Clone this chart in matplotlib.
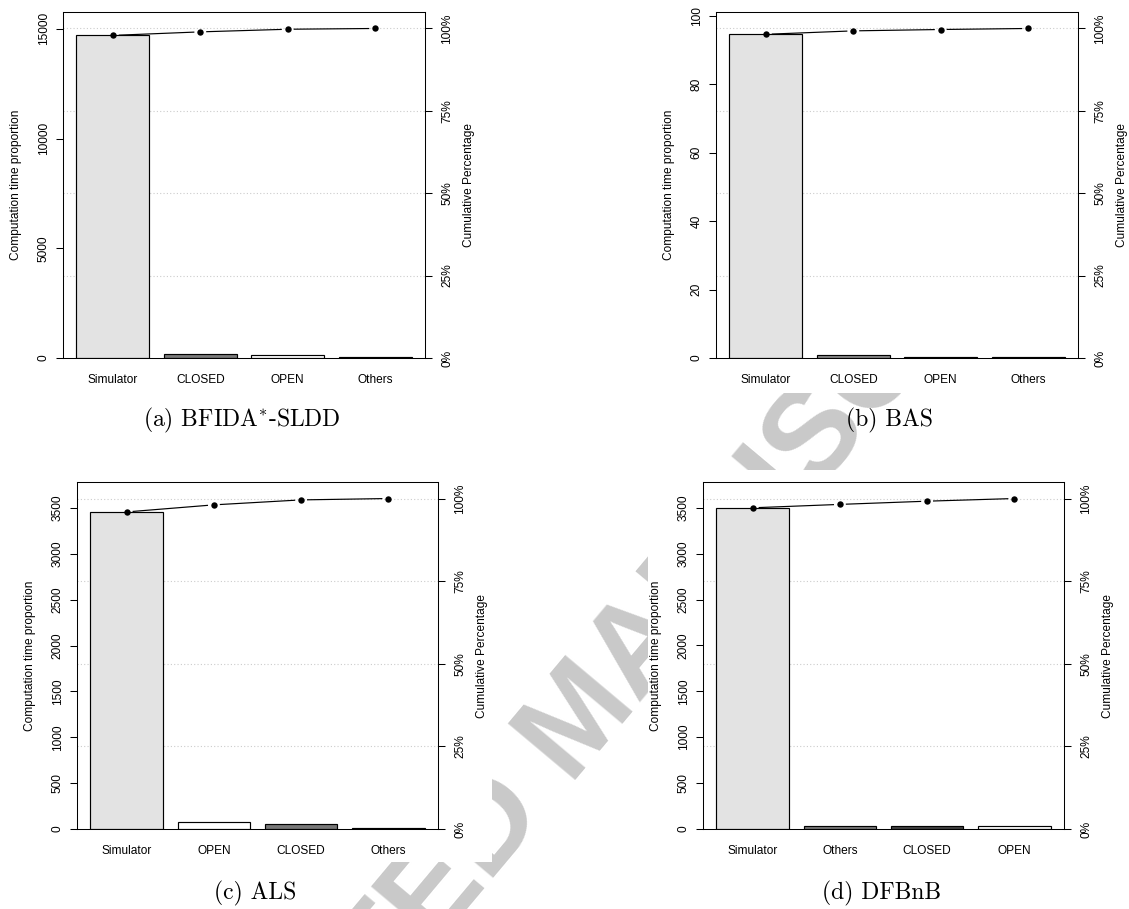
import matplotlib.pyplot as plt
import numpy as np
from matplotlib.patches import Rectangle

plt.rcParams['font.family'] = ['Liberation Sans', 'DejaVu Sans']
plt.rcParams['font.size'] = 8.6
plt.rcParams['mathtext.fontset'] = 'cm'

W, H = 1129, 909

# (a) BFIDA*-SLDD
cats_a = ['Simulator', 'CLOSED', 'OPEN', 'Others']
vals_a = [14700, 160, 120, 35]
cols_a = ['#e3e3e3', '#7a7a7a', '#ffffff', '#3a3a3a']
yticks_a = [0, 5000, 10000, 15000]

# (b) BAS
cats_b = ['Simulator', 'CLOSED', 'OPEN', 'Others']
vals_b = [94.6, 1.0, 0.4, 0.3]
cols_b = ['#e3e3e3', '#8a8a8a', '#555555', '#111111']
yticks_b = [0, 20, 40, 60, 80, 100]

# (c) ALS
cats_c = ['Simulator', 'OPEN', 'CLOSED', 'Others']
vals_c = [3456, 77, 54, 15]
cols_c = ['#e3e3e3', '#ffffff', '#777777', '#333333']
yticks_c = [0, 500, 1000, 1500, 2000, 2500, 3000, 3500]

# (d) DFBnB
cats_d = ['Simulator', 'Others', 'CLOSED', 'OPEN']
vals_d = [3500, 37, 35, 29]
cols_d = ['#e3e3e3', '#7a7a7a', '#444444', '#ffffff']
yticks_d = [0, 500, 1000, 1500, 2000, 2500, 3000, 3500]

pct_ticks = [0, 25, 50, 75, 100]

fig = plt.figure(figsize=(W / 100, H / 100), dpi=100)


def px_axes(left, right, top, bottom):
    return fig.add_axes([left / W, 1 - bottom / H, (right - left) / W, (bottom - top) / H])


def type_b(ax, x, y, gap=6.5):
    # R style type="b": points joined by lines that stop short of each point
    tr = ax.transData
    pts = tr.transform(np.column_stack([x, y]))
    for p0, p1 in zip(pts[:-1], pts[1:]):
        d = p1 - p0
        u = d / np.hypot(*d)
        seg = tr.inverted().transform(np.vstack([p0 + gap * u, p1 - gap * u]))
        ax.plot(seg[:, 0], seg[:, 1], color='black', lw=0.85, zorder=3)
    ax.plot(x, y, 'o', color='black', ms=4.6, mew=0, zorder=4)


def pareto(ax, cats, vals, cols, yticks):
    vals = np.asarray(vals, dtype=float)
    total = vals.sum()
    cum = np.cumsum(vals)
    x = 0.7 + 1.2 * np.arange(len(vals))
    ax.set_xlim(0.016, 4.984)
    ax.set_ylim(0, total * 1.05)

    for p in pct_ticks[1:]:
        ax.axhline(total * p / 100, color='#cccccc', lw=0.8, ls=(0, (1, 2)), zorder=0)
    ax.bar(x, vals, width=1, color=cols, edgecolor='black', linewidth=0.85, zorder=2)

    ax.set_xticks(x)
    ax.set_xticklabels(cats)
    ax.tick_params(axis='x', length=0, pad=11.5)
    ax.set_yticks(yticks)
    ax.set_yticklabels([str(t) for t in yticks], rotation=90, va='center')
    ax.tick_params(axis='y', direction='out', length=5, width=0.75, pad=4.5)
    for s in ax.spines.values():
        s.set_linewidth(0.75)

    ax2 = ax.twinx()
    ax2.set_ylim(ax.get_ylim())
    ax2.set_yticks([total * p / 100 for p in pct_ticks])
    ax2.set_yticklabels([f'{p}%' for p in pct_ticks], rotation=90, va='center')
    ax2.tick_params(axis='y', direction='out', length=5, width=0.75, pad=6.8)
    for s in ax2.spines.values():
        s.set_visible(False)

    type_b(ax, x, cum)

    ax.annotate('Computation time proportion', xy=(0, 0.5), xycoords='axes fraction',
                xytext=(-47, 0), textcoords='offset pixels', rotation=90,
                ha='center', va='center')
    ax.annotate('Cumulative Percentage', xy=(1, 0.5), xycoords='axes fraction',
                xytext=(44, 0), textcoords='offset pixels', rotation=90,
                ha='center', va='center')


# watermark sits behind the (opaque) sub-figures
fig.text(582 / W, 1 - 722 / H, 'ACCEPTED MANUSCRIPT', rotation=50, rotation_mode='anchor',
         ha='center', va='center', fontsize=92, fontweight='bold', color='#c9c9c9', zorder=-3)
for (l, r, t, b) in [(0, 492, 0, 393), (648, W, 0, 393), (0, 492, 470, 862), (648, W, 470, 862)]:
    fig.patches.append(Rectangle((l / W, 1 - b / H), (r - l) / W, (b - t) / H,
                                 transform=fig.transFigure, facecolor='white',
                                 edgecolor='none', zorder=-2))

ax_a = px_axes(63, 425, 12, 358)
ax_b = px_axes(716, 1078, 12, 358)
ax_c = px_axes(77, 438, 482, 829)
ax_d = px_axes(703, 1064, 482, 829)

pareto(ax_a, cats_a, vals_a, cols_a, yticks_a)
pareto(ax_b, cats_b, vals_b, cols_b, yticks_b)
pareto(ax_c, cats_c, vals_c, cols_c, yticks_c)
pareto(ax_d, cats_d, vals_d, cols_d, yticks_d)

captions = [(242, 420, r'(a) BFIDA$^{*}$-SLDD'), (890, 420, '(b) BAS'),
            (255, 893, '(c) ALS'), (882, 893, '(d) DFBnB')]
for cx, cy, txt in captions:
    fig.text(cx / W, 1 - cy / H, txt, ha='center', va='center', fontsize=17, family='cmr10')

fig.savefig('out.png', dpi=100)
